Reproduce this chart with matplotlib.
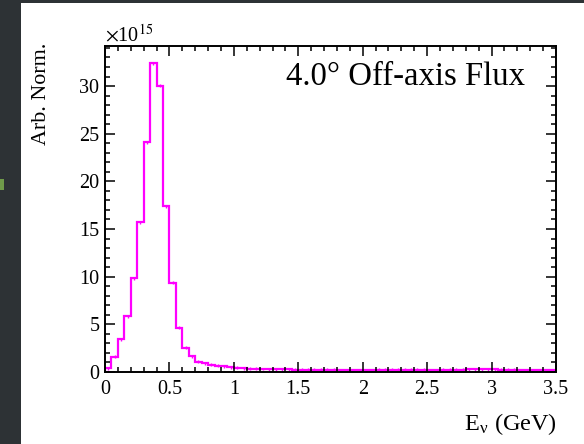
import numpy as np
import matplotlib
matplotlib.use("Agg")
import matplotlib.pyplot as plt
from matplotlib.patches import Rectangle

plt.rcParams['font.family'] = ['Liberation Serif', 'DejaVu Serif']
plt.rcParams['mathtext.fontset'] = 'stix'

# 4.0 deg off-axis flux, 0.05 GeV bins, in units of 1e15
bin_width = 0.05
flux = [0.40, 1.60, 3.45, 5.85, 9.85, 15.70, 24.10, 32.40, 30.05, 17.40,
        9.35, 4.65, 2.55, 1.65, 1.10, 0.92, 0.78, 0.68, 0.58, 0.50,
        0.44, 0.40, 0.36, 0.34, 0.32, 0.30, 0.29, 0.28, 0.27, 0.26,
        0.25, 0.24, 0.24, 0.23, 0.22, 0.22, 0.21, 0.21, 0.20, 0.20,
        0.20, 0.21, 0.22, 0.24, 0.25, 0.25, 0.24, 0.23, 0.22, 0.22,
        0.21, 0.21, 0.22, 0.23, 0.24, 0.26, 0.28, 0.29, 0.30, 0.29,
        0.28, 0.26, 0.24, 0.22, 0.21, 0.20, 0.19, 0.18, 0.17, 0.16]
edges = np.arange(len(flux) + 1) * bin_width
centers = edges[:-1] + bin_width / 2

fig = plt.figure(figsize=(5.84, 4.44), dpi=100)
fig.patch.set_facecolor('#2d3235')
# white slide panel
fig.patches.append(Rectangle((21 / 584, 0), 1, 1 - 3 / 444, transform=fig.transFigure,
                             facecolor='white', edgecolor='none', zorder=-2))
fig.patches.append(Rectangle((0, 1 - 190 / 444), 4 / 584, 11 / 444, transform=fig.transFigure,
                             facecolor='#6f9a4a', edgecolor='none', zorder=-2))

ax = fig.add_axes([105 / 584, 1 - 372 / 444, 451 / 584, 326 / 444])
ax.set_zorder(2)
ax.stairs(flux, edges, color='#ff00ff', linewidth=1.6)
ax.errorbar(centers, flux, yerr=0.15, fmt='none', ecolor='#ff00ff', elinewidth=1.0)

ax.set_xlim(0, 3.5)
ax.set_ylim(0, 34.2)
ax.set_xticks([0, 0.5, 1, 1.5, 2, 2.5, 3, 3.5])
ax.set_xticklabels(['0', '0.5', '1', '1.5', '2', '2.5', '3', '3.5'])
ax.set_xticks(np.arange(0, 3.51, 0.1), minor=True)
ax.set_yticks([0, 5, 10, 15, 20, 25, 30])
ax.set_yticks(np.arange(0, 34.2, 1), minor=True)

for s in ax.spines.values():
    s.set_linewidth(1.4)
ax.tick_params(which='both', direction='in', top=True, right=True, labelsize=14.5, width=1.1)
ax.tick_params(which='major', length=7.5, pad=4)
ax.tick_params(axis='x', which='major', pad=6)
ax.tick_params(which='minor', length=3.8)

ax.text(0.401, 0.880, u'4.0\u00b0 Off-axis Flux', transform=ax.transAxes, fontsize=23.6,
        ha='left', va='baseline')

fig.text(105 / 584, 1 - 36 / 444, r'$\times$10$^{15}$', fontsize=14.5, ha='left', va='center')
fig.text(42 / 584, 1 - 43 / 444, 'Arb. Norm.', rotation=90, fontsize=15.8, ha='center', va='top')
fig.text(557 / 584, 1 - 430 / 444, r'E$_{\mathregular{ν}}$ (GeV)', fontsize=17.5,
         ha='right', va='baseline')

fig.savefig('out.png', dpi=100, facecolor=fig.get_facecolor())
